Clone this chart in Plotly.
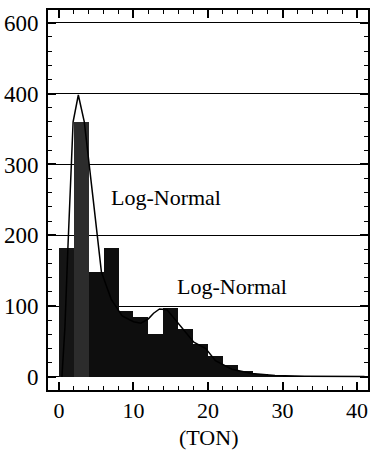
import plotly.graph_objects as go

# Histogram bins (TON), width 2
bin_centers = [1, 3, 5, 7, 9, 11, 13, 15, 17, 19, 21, 23, 25, 27, 29]
bin_counts = [182, 360, 148, 182, 93, 84, 60, 97, 68, 47, 30, 17, 9, 4, 2]
bin_colors = ["#151515", "#2c2c2c"] + ["#0e0e0e"] * 13

# First log-normal fit (visible part)
ln1_x = [0.4, 0.8, 1.2, 1.9, 2.6, 3.4, 4.6, 5.7, 7.0, 8.5]
ln1_y = [0, 70, 182, 360, 398, 360, 250, 148, 110, 86]

# Second log-normal fit (visible part)
ln2_x = [8.5, 10.0, 11.0, 12.0, 12.7, 13.5, 14.5, 15.7, 18.1, 19.7, 21.0, 23.2, 25.9, 29.0, 33.0, 41.0]
ln2_y = [86, 78, 76, 82, 90, 96, 95, 80, 49, 40, 23, 11, 5, 2, 1, 0.5]

y_tickvals = [0, 100, 200, 300, 400, 500]
y_ticktext = ["0", "100", "200", "300", "400", "600"]
x_tickvals = [0, 10, 20, 30, 40]

FONT = "Liberation Serif"

fig = go.Figure()
fig.add_trace(go.Bar(x=bin_centers, y=bin_counts, width=2,
                     marker=dict(color=bin_colors, line=dict(width=0)),
                     showlegend=False))
fig.add_trace(go.Scatter(x=ln1_x, y=ln1_y, mode="lines",
                         line=dict(color="black", width=1.5), showlegend=False))
fig.add_trace(go.Scatter(x=ln2_x, y=ln2_y, mode="lines",
                         line=dict(color="black", width=1.5), showlegend=False))

fig.add_annotation(x=14.3, y=254, text="Log-Normal", showarrow=False,
                   font=dict(family=FONT, size=22, color="black"))
fig.add_annotation(x=23.2, y=128, text="Log-Normal", showarrow=False,
                   font=dict(family=FONT, size=22, color="black"))
fig.add_annotation(x=0.5, xref="paper", y=-0.125, yref="paper", text="(TON)",
                   showarrow=False, xanchor="center", yanchor="middle",
                   font=dict(family=FONT, size=22, color="black"))

fig.update_layout(
    width=374, height=459,
    margin=dict(l=48, r=4, t=10, b=69),
    paper_bgcolor="white", plot_bgcolor="white",
    bargap=0,
    xaxis=dict(range=[-1.47, 41.47], tickvals=x_tickvals,
               ticks="inside", ticklen=8, tickwidth=1.5, tickcolor="black",
               minor=dict(dtick=2, tick0=0, ticks="inside", ticklen=4,
                          tickwidth=1, tickcolor="black"),
               showline=True, linecolor="black", linewidth=2, mirror="allticks",
               showgrid=False, zeroline=False,
               tickfont=dict(family=FONT, size=22, color="black"),
               ticklabelstandoff=0),
    yaxis=dict(range=[-18.4, 518], tickvals=y_tickvals, ticktext=y_ticktext,
               ticks="inside", ticklen=8, tickwidth=1.5, tickcolor="black",
               minor=dict(dtick=20, tick0=0, ticks="inside", ticklen=4,
                          tickwidth=1, tickcolor="black"),
               showline=True, linecolor="black", linewidth=2, mirror="allticks",
               showgrid=True, gridcolor="black", gridwidth=1.3, zeroline=False,
               tickfont=dict(family=FONT, size=23, color="black"),
               ticklabelstandoff=3),
)

fig.write_html("out.html")
